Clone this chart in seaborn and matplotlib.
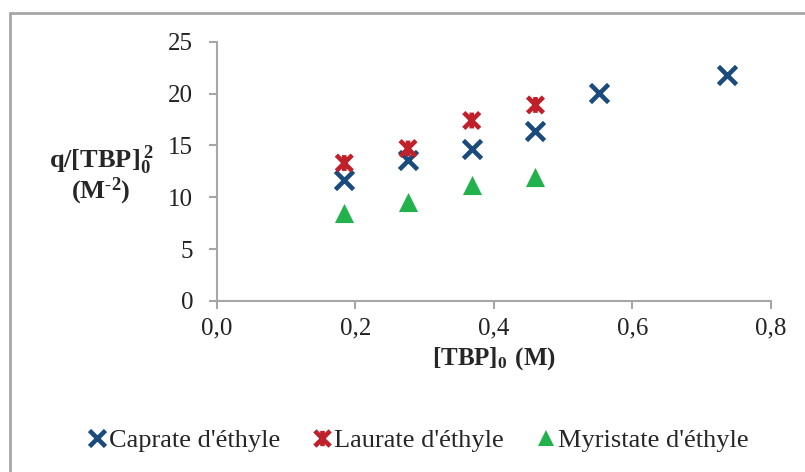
import seaborn as sns
import matplotlib.pyplot as plt
from matplotlib.path import Path
from matplotlib.lines import Line2D

# data
tbp_caprate = [0.184, 0.276, 0.368, 0.46, 0.552, 0.736]
q_caprate = [11.7, 13.6, 14.7, 16.4, 20.1, 21.8]
tbp_laurate = [0.184, 0.276, 0.368, 0.46]
q_laurate = [13.3, 14.7, 17.4, 18.9]
tbp_myristate = [0.184, 0.276, 0.368, 0.46]
q_myristate = [8.5, 9.5, 11.2, 12.0]
names = ["Caprate d'éthyle", "Laurate d'éthyle", "Myristate d'éthyle"]

sns.set_style('white')
plt.rcParams['font.family'] = ['Liberation Serif', 'DejaVu Serif']
plt.rcParams['mathtext.fontset'] = 'custom'
plt.rcParams['mathtext.rm'] = 'Liberation Serif'
plt.rcParams['mathtext.bf'] = 'Liberation Serif:bold'

# star marker: an x with a vertical bar through it
star = Path([(-1, -1), (1, 1), (-1, 1), (1, -1), (0, -1), (0, 1)],
            [Path.MOVETO, Path.LINETO, Path.MOVETO, Path.LINETO, Path.MOVETO, Path.LINETO])

blue = '#1b4a7c'
red = '#c0202a'
green = '#22b24c'
gray = '#a6a6a6'
fs = 18

fig = plt.figure(figsize=(8.05, 4.72), dpi=100)
ax = fig.add_axes([0.2693, 0.3623, 0.6885, 0.5494])

sns.scatterplot(x=tbp_caprate, y=q_caprate, ax=ax, marker='x', color=blue,
                s=170, linewidth=3.3)
sns.scatterplot(x=tbp_laurate, y=q_laurate, ax=ax, marker=star, color=red,
                s=130, linewidth=3.3, facecolor='none', edgecolor=red)
sns.scatterplot(x=tbp_myristate, y=q_myristate, ax=ax, marker='^', color=green,
                s=190, linewidth=0)

ax.set_xlim(0, 0.8)
ax.set_ylim(0, 25)
ax.set_xticks([0, 0.2, 0.4, 0.6, 0.8])
ax.set_xticklabels(['0,0', '0,2', '0,4', '0,6', '0,8'])
ax.set_yticks([0, 5, 10, 15, 20, 25])
for side in ['top', 'right']:
    ax.spines[side].set_visible(False)
for side in ['left', 'bottom']:
    ax.spines[side].set_color(gray)
    ax.spines[side].set_linewidth(1.5)
ax.tick_params(axis='both', bottom=True, left=True, direction='out', length=6,
               width=1.5, color=gray, labelsize=fs, labelcolor='#222222')
ax.tick_params(axis='x', pad=6)
ax.tick_params(axis='y', pad=11)

ax.set_xlabel(r'$\mathbf{[TBP]_0\ (M)}$', fontsize=fs, labelpad=4)
fig.text(0.1255, 0.661, r'$\mathbf{q/[TBP]_0^{\,2}}$', fontsize=19, ha='center', va='center')
fig.text(0.1255, 0.595, r'$\mathbf{(M^{\text{-}2})}$', fontsize=19, ha='center', va='center')

handles = [
    Line2D([], [], ls='none', marker='x', color=blue, markersize=12, markeredgewidth=3.3),
    Line2D([], [], ls='none', marker=star, color=red, markersize=11, markeredgewidth=3.3),
    Line2D([], [], ls='none', marker='^', color=green, markersize=12, markeredgewidth=0),
]
fig.legend(handles, names, loc='center', bbox_to_anchor=(0.52, 0.067), ncol=3,
           frameon=False, fontsize=19, handlelength=0.6, handletextpad=0.15,
           columnspacing=1.3)

# figure border on the left and top edges
fig.add_artist(Line2D([0.012, 0.012], [0, 0.973], color=gray, lw=2, transform=fig.transFigure))
fig.add_artist(Line2D([0.012, 1], [0.973, 0.973], color=gray, lw=2, transform=fig.transFigure))

fig.savefig('out.png', dpi=100)
